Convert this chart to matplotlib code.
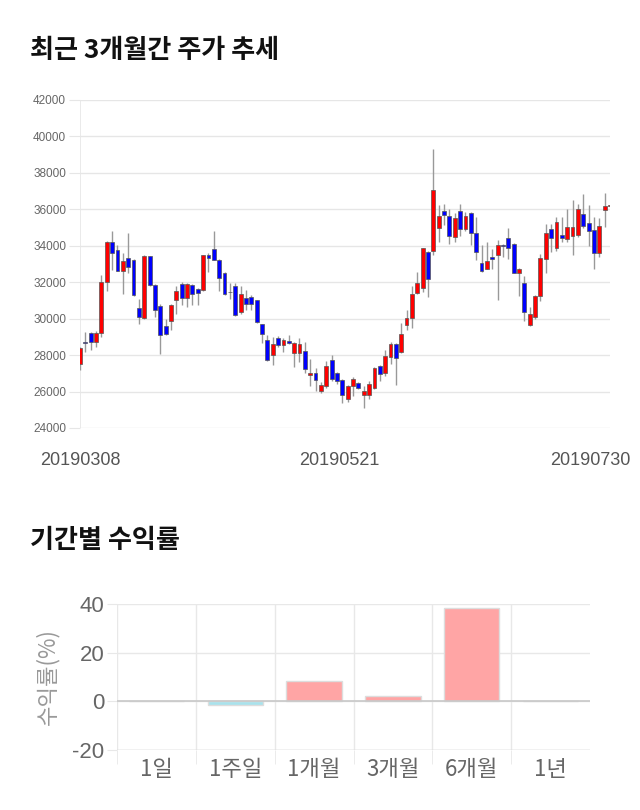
import numpy as np
import matplotlib
matplotlib.use("Agg")
import matplotlib.pyplot as plt

plt.rcParams['font.family'] = ['Noto Sans CJK KR', 'DejaVu Sans']
plt.rcParams['axes.unicode_minus'] = False

# 최근 3개월 일봉 (시가, 고가, 저가, 종가)
opens = [27535, 28700, 29200, 28730, 29240, 32000, 34220, 33760, 32620, 33320,
         33210, 30560, 30040, 33430, 31840, 30700, 29600, 29880, 31050, 31900,
         31160, 31840, 31650, 31600, 33480, 33850, 33210, 32510, 31480, 31770,
         30340, 31160, 31200, 31000, 29680, 28850, 27990, 28950, 28540, 28760,
         28140, 28140, 28210, 26900, 27010, 26020, 26290, 27720, 27010, 26620,
         25610, 26310, 26450, 25800, 25800, 26200, 27410, 27040, 27910, 28600,
         28180, 29640, 30040, 31430, 31680, 33650, 33700, 34990, 35900, 35650,
         34460, 35900, 34900, 35810, 34710, 33080, 32750, 33400, 33520, 34030,
         34400, 34090, 32530, 31980, 29640, 30110, 31230, 33300, 34910, 33890,
         34600, 34350, 34550, 34580, 35770, 35260, 34860, 33580, 35990, 36200]
highs = [28450, 29270, 29250, 29300, 32420, 34250, 34800, 34070, 33580, 34710,
         33250, 31100, 33520, 33450, 31900, 30800, 30000, 30800, 31800, 32020,
         31950, 31900, 31700, 33500, 33600, 34800, 33250, 32550, 31930, 31930,
         31790, 31600, 31300, 31050, 29700, 29130, 29000, 29050, 28950, 29130,
         28700, 28950, 28730, 27780, 27270, 26500, 27650, 28000, 27100, 26700,
         26350, 26800, 26500, 26300, 26600, 27350, 27450, 28270, 28700, 28650,
         29780, 30500, 31790, 32560, 33900, 33700, 39310, 36230, 36320, 36000,
         35790, 36320, 35870, 35850, 35560, 34070, 34180, 33820, 34310, 34080,
         34950, 34150, 32800, 32350, 30650, 31300, 33570, 35180, 35180, 35590,
         35580, 36000, 36510, 36320, 36820, 36230, 35560, 35520, 36870, 36250]
lows = [27170, 28180, 28300, 28450, 29000, 31530, 32660, 32600, 31380, 32520,
        31250, 29680, 30000, 31800, 30100, 28080, 29100, 29370, 30230, 30740,
        30650, 30740, 30740, 31500, 32570, 33200, 31510, 31300, 31100, 30150,
        30280, 30460, 30500, 29750, 28650, 27700, 27460, 28450, 28180, 28600,
        27350, 27600, 27000, 26300, 26050, 25900, 26200, 26600, 26400, 25390,
        25450, 25760, 26150, 25120, 25600, 26150, 26600, 26850, 27500, 26350,
        28100, 29400, 29500, 31350, 31470, 31200, 33520, 34180, 35130, 34120,
        34210, 34550, 34800, 34050, 33210, 32570, 32710, 32710, 31000, 33380,
        33300, 32480, 31250, 29860, 29600, 30000, 30960, 32520, 33670, 33730,
        34210, 34210, 33520, 34500, 35000, 33970, 32700, 33380, 35050, 36150]
closes = [28400, 28650, 28730, 29240, 32000, 34220, 33580, 32620, 33160, 32850,
          31290, 30100, 33430, 31870, 30500, 29090, 29150, 30740, 31510, 31160,
          31900, 31380, 31430, 33480, 33340, 33210, 32240, 31380, 31450, 30190,
          31380, 30830, 30830, 29790, 29180, 27720, 28630, 28540, 28850, 28690,
          28690, 28600, 27260, 27010, 26640, 26350, 27410, 26710, 26600, 25830,
          26290, 26710, 26200, 26020, 26400, 27300, 26990, 27940, 28630, 27850,
          29180, 30040, 31380, 31980, 33870, 32160, 37050, 35650, 35680, 34550,
          35500, 34920, 35630, 34680, 33670, 32640, 33190, 33300, 34040, 33980,
          33890, 32530, 32720, 30370, 30280, 31230, 33320, 34710, 34400, 35280,
          34440, 35010, 35010, 36010, 35100, 34820, 33580, 35100, 36200, 36200]
date_labels = ['20190308', '20190521', '20190730']
date_pos = [0, 48.4, 95.3]

# 기간별 수익률
periods = ['1일', '1주일', '1개월', '3개월', '6개월', '1년']
returns = [0, -1.4, 8.5, 2.3, 38.5, 0]

fig = plt.figure(figsize=(6.4, 8.1), dpi=100)

# ---- 주가 추세 (캔들) ----
fig.text(30 / 640, 1 - 50 / 810, '최근 3개월간 주가 추세', fontsize=18.8,
         fontweight='bold', va='center', ha='left', color='#111111')

ax = fig.add_axes([80 / 640, 382 / 810, 530 / 640, 328 / 810])
o = np.array(opens)
c = np.array(closes)
x = np.arange(len(o))
up = c >= o
body_col = np.where(up, '#ff0000', '#0000ff')
ax.vlines(x, lows, highs, color='#999999', linewidth=1, zorder=2)
ax.bar(x, np.maximum(np.abs(c - o), 30), bottom=np.minimum(o, c), width=0.72,
       color=body_col, edgecolor='#555555', linewidth=0.5, zorder=3)

ax.set_xlim(0, len(o) - 1)
ax.set_ylim(24000, 42000)
ax.set_yticks(np.arange(24000, 42001, 2000))
ax.set_xticks(date_pos)
ax.set_xticklabels(date_labels)
for s in ax.spines.values():
    s.set_visible(False)
ax.axvline(0, color='#e6e6e6', linewidth=1.2, zorder=1)
ax.grid(axis='y', color='#e6e6e6', linewidth=1)
ax.set_axisbelow(True)
ax.tick_params(axis='y', length=8, color='#e6e6e6', labelsize=8.5,
               labelcolor='#666666', pad=2)
ax.tick_params(axis='x', length=0, labelsize=13, labelcolor='#555555', pad=17)
for t in ax.get_yticklabels() + ax.get_xticklabels():
    t.set_fontfamily('Liberation Sans')

# ---- 기간별 수익률 ----
fig.text(30 / 640, 1 - 541 / 810, '기간별 수익률', fontsize=18.8,
         fontweight='bold', va='center', ha='left', color='#111111')

ax2 = fig.add_axes([117 / 640, 60 / 810, 473 / 640, 146 / 810])
bx = np.arange(len(periods))
bar_col = ['#a8e2ec' if v < 0 else '#ffa5a5' for v in returns]
ax2.bar(bx, returns, width=0.7, color=bar_col, edgecolor='#dddddd',
        linewidth=1, zorder=3)
ax2.set_xlim(-0.5, len(periods) - 0.5)
ax2.set_ylim(-20, 40)
ax2.set_yticks([-20, 0, 20, 40])
ax2.set_xticks(bx)
ax2.set_xticklabels(periods)
ax2.set_xticks(np.arange(-0.5, len(periods) - 1), minor=True)
for s in ax2.spines.values():
    s.set_visible(False)
ax2.grid(axis='y', color='#e8e8e8', linewidth=1)
ax2.grid(axis='x', which='minor', color='#e8e8e8', linewidth=1)
ax2.axhline(0, color='#c8c8c8', linewidth=1.2, zorder=4)
ax2.axhline(-20, color='#d0d0d0', linewidth=1, zorder=2)
ax2.set_axisbelow(True)
ax2.tick_params(axis='x', which='major', length=0, labelsize=16,
                labelcolor='#666666', pad=6)
ax2.tick_params(axis='x', which='minor', length=10, color='#e8e8e8')
ax2.tick_params(axis='y', length=7, color='#e8e8e8', labelsize=16,
                labelcolor='#666666', pad=2)
for t in ax2.get_yticklabels():
    t.set_fontfamily('Liberation Sans')

fig.text(47 / 640, 1 - 677 / 810, '수익률(%)', rotation=90, fontsize=16,
         color='#999999', ha='center', va='center')

fig.savefig('out.png', dpi=100)
